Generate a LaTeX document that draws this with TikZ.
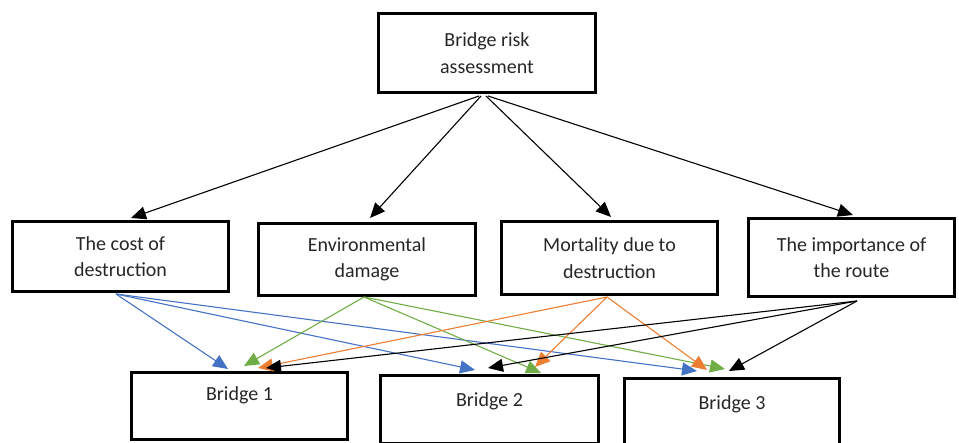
\documentclass[tikz,border=0pt]{standalone}
\usepackage{fontspec}
\setmainfont{Carlito}
\usetikzlibrary{arrows.meta}
\definecolor{cblue}{RGB}{68,114,196}
\definecolor{corange}{RGB}{237,125,49}
\definecolor{cgreen}{RGB}{112,173,71}
\definecolor{ctext}{RGB}{38,38,38}
\begin{document}
\begin{tikzpicture}[x=1pt,y=-1pt,
  box/.style={draw=black, line width=3pt, rectangle, align=center, inner sep=0pt,
    text=ctext, font=\fontsize{20}{26.5}\selectfont},
  bridgetxt/.style={text=ctext, font=\fontsize{20}{26.5}\selectfont},
  conn/.style={line width=1.1pt, -{Triangle[length=15pt,width=13pt]}},
  ]
\useasboundingbox (0,0) rectangle (959,443);

% boxes
\node[box, minimum width=217pt, minimum height=79pt] (risk) at (487,53) {Bridge risk\\assessment};
\node[box, minimum width=216pt, minimum height=70pt] (cost) at (120.5,256.5) {The cost of\\destruction};
\node[box, minimum width=217pt, minimum height=72pt] (env) at (367,259.5) {Environmental\\damage};
\node[box, minimum width=216pt, minimum height=73pt] (mort) at (609.5,258) {Mortality due to\\destruction};
\node[box, minimum width=206pt, minimum height=78pt] (route) at (851.5,257.5) {The importance of\\the route};

\node[box, minimum width=216pt, minimum height=67pt,
  label={[bridgetxt, yshift=11pt]center:Bridge 1}] (b1) at (239.5,406) {};
\node[box, minimum width=218pt, minimum height=68pt,
  label={[bridgetxt, yshift=9pt]center:Bridge 2}] (b2) at (489.5,410) {};
\node[box, minimum width=215pt, minimum height=68pt,
  label={[bridgetxt, yshift=9pt]center:Bridge 3}] (b3) at (732,413) {};

% start points
\coordinate (r1) at (479,96);
\coordinate (r2) at (481,96);
\coordinate (r3) at (486,96);
\coordinate (r4) at (488,96);
\coordinate (sc) at (116,294);
\coordinate (se) at (364,297);
\coordinate (sm) at (607,297);
\coordinate (sr) at (857,301);

% tips
\coordinate (tcost) at (131,218);
\coordinate (tenv) at (370,218);
\coordinate (tmort) at (611,217);
\coordinate (troute) at (853,215);

\coordinate (b1blue) at (228,369);
\coordinate (b2blue) at (475,370);
\coordinate (b3blue) at (697,371);
\coordinate (b1green) at (244,366);
\coordinate (b2green) at (541,373);
\coordinate (b3green) at (725,369);
\coordinate (b1orange) at (258,368);
\coordinate (b2orange) at (535,367);
\coordinate (b3orange) at (707,370);
\coordinate (b1black) at (266,368);
\coordinate (b2black) at (488,368);
\coordinate (b3black) at (729,371);

% top arrows
\draw[conn] (r1) -- (tcost);
\draw[conn] (r2) -- (tenv);
\draw[conn] (r3) -- (tmort);
\draw[conn] (r4) -- (troute);

% colored arrows
\draw[conn, cblue] (sc) -- (b1blue);
\draw[conn, cblue] (sc) -- (b2blue);
\draw[conn, cblue] (sc) -- (b3blue);
\draw[conn, cgreen] (se) -- (b1green);
\draw[conn, cgreen] (se) -- (b2green);
\draw[conn, cgreen] (se) -- (b3green);
\draw[conn, corange] (sm) -- (b1orange);
\draw[conn, corange] (sm) -- (b2orange);
\draw[conn, corange] (sm) -- (b3orange);
\draw[conn, black] (sr) -- (b1black);
\draw[conn, black] (sr) -- (b2black);
\draw[conn, black] (sr) -- (b3black);
\end{tikzpicture}
\end{document}
